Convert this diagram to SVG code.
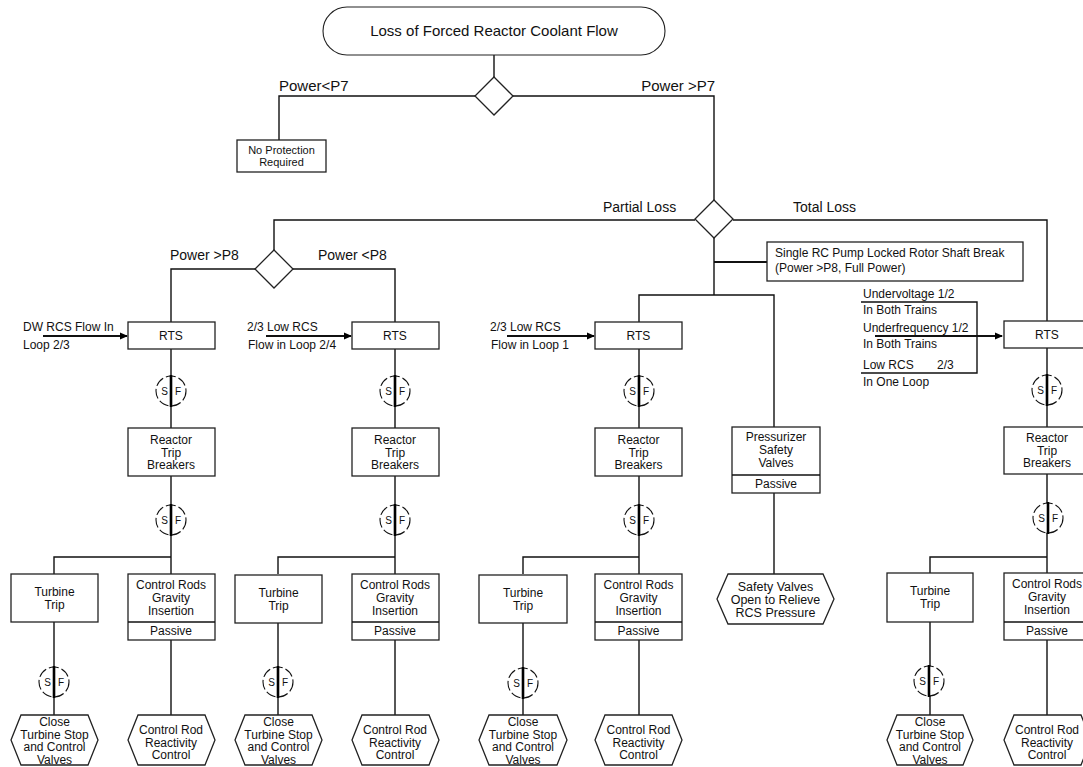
<svg xmlns="http://www.w3.org/2000/svg" width="1083" height="767" viewBox="0 0 1083 767">
<style>
text{font-family:"Liberation Sans",Arial,sans-serif;fill:#111;}
.box{fill:#fff;stroke:#222;stroke-width:1.3;}
.ln{fill:none;stroke:#111;stroke-width:1.4;}
.thk{fill:none;stroke:#111;stroke-width:2.2;}
.t12{font-size:12px;text-anchor:middle;}
.t11{font-size:11px;text-anchor:middle;}
.l12{font-size:12px;}
.l14{font-size:14px;}
.l15{font-size:15px;}
.sfc{fill:#fff;stroke:#111;stroke-width:1.1;stroke-dasharray:10 3;}
.sfl{stroke:#000;stroke-width:2.6;}
.sft{font-size:10px;text-anchor:middle;}
</style>
<defs>
<marker id="ah" markerWidth="8" markerHeight="8" refX="7" refY="4" orient="auto" markerUnits="userSpaceOnUse">
<path d="M0,0.5 L8,4 L0,7.5 Z" fill="#000"/>
</marker>
<g id="sf">
<circle cx="0" cy="0" r="15" class="sfc"/>
<line x1="0" y1="-16" x2="0" y2="16" class="sfl"/>
<text x="-6.5" y="3.5" class="sft">S</text>
<text x="7" y="3.5" class="sft">F</text>
</g>
</defs>

<g id="connectors">
<path class="ln" d="M494,55 V77"/>
<path class="ln" d="M475,96 H279 V140"/>
<path class="ln" d="M513,96 H714 V200"/>
<path class="ln" d="M695,220 H274 V250"/>
<path class="ln" d="M733,220 H1047 V321"/>
<path class="ln" d="M255,269 H171 V322"/>
<path class="ln" d="M293,269 H395 V322"/>
<path class="ln" d="M714,238 V295"/>
<path class="thk" d="M714,262 H767"/>
<path class="ln" d="M639,322 V295 H774 V427"/>
<path class="ln" d="M171,349 V428 M171,476 V574 M171,557 H54 V574 M54,622 V715 M171,640 V715"/>
<path class="ln" d="M395,349 V428 M395,476 V574 M395,557 H278 V574 M278,622 V715 M395,640 V715"/>
<path class="ln" d="M639,349 V428 M639,476 V574 M639,557 H523 V574 M523,622 V715 M639,640 V715"/>
<path class="ln" d="M774,493 V574"/>
<path class="ln" d="M1047,348 V427 M1047,474 V573 M1047,557 H930 V573 M930,622 V715 M1047,640 V715"/>
<path class="thk" d="M43,336 H127" marker-end="url(#ah)"/>
<path class="thk" d="M266,336 H351" marker-end="url(#ah)"/>
<path class="thk" d="M507,336 H594" marker-end="url(#ah)"/>
<path class="thk" d="M875,336 H1002" marker-end="url(#ah)"/>
<path class="ln" d="M861,302 H977 V373 H861"/>
</g>

<g id="labels">
<text x="279" y="91" class="l15">Power&lt;P7</text>
<text x="715" y="91" class="l15" text-anchor="end">Power &gt;P7</text>
<text x="603" y="212" class="l14">Partial Loss</text>
<text x="793" y="212" class="l14">Total Loss</text>
<text x="170" y="260" class="l14">Power &gt;P8</text>
<text x="318" y="260" class="l14">Power &lt;P8</text>
<text x="23" y="331" class="l12">DW RCS Flow In</text>
<text x="23" y="349" class="l12">Loop 2/3</text>
<text x="247" y="331" class="l12">2/3 Low RCS</text>
<text x="248" y="349" class="l12">Flow in Loop 2/4</text>
<text x="490" y="331" class="l12">2/3 Low RCS</text>
<text x="491" y="349" class="l12">Flow in Loop 1</text>
<text x="863" y="298" class="l12">Undervoltage 1/2</text>
<text x="863" y="314" class="l12">In Both Trains</text>
<text x="863" y="332" class="l12">Underfrequency 1/2</text>
<text x="863" y="348" class="l12">In Both Trains</text>
<text x="863" y="369" class="l12">Low RCS</text>
<text x="937" y="369" class="l12">2/3</text>
<text x="863" y="386" class="l12">In One Loop</text>
</g>

<g id="start">
<rect x="323" y="7" width="342" height="48" rx="24" ry="24" class="box" style="stroke-width:1.1"/>
<text x="494" y="36" class="l15" text-anchor="middle">Loss of Forced Reactor Coolant Flow</text>
</g>
<g id="dec-p7"><polygon points="494,77 513,96 494,115 475,96" class="box"/></g>
<g id="dec-loss"><polygon points="714,200 733,219 714,238 695,219" class="box"/></g>
<g id="dec-p8"><polygon points="274,250 293,269 274,288 255,269" class="box"/></g>

<g id="no-protection">
<rect x="237" y="140" width="89" height="32" class="box"/>
<text x="281.5" y="154" class="t11">No Protection</text>
<text x="281.5" y="166" class="t11">Required</text>
</g>

<g id="pump-break">
<rect x="767" y="242" width="256" height="39" class="box"/>
<text x="775" y="257" class="l12">Single RC Pump Locked Rotor Shaft Break</text>
<text x="775" y="272" class="l12">(Power &gt;P8, Full Power)</text>
</g>

<g id="rts-a"><rect x="128" y="322" width="87" height="27" class="box"/><text x="171" y="340" class="t12">RTS</text></g>
<g id="sf-a1"><use href="#sf" x="171" y="391"/></g>
<g id="rtb-a"><rect x="128" y="428" width="87" height="48" class="box"/><text x="171" y="444" class="t12">Reactor</text><text x="171" y="456.5" class="t12">Trip</text><text x="171" y="469" class="t12">Breakers</text></g>
<g id="sf-a2"><use href="#sf" x="171" y="520"/></g>
<g id="tt-a"><rect x="11" y="574" width="87" height="48" class="box"/><text x="54.5" y="596" class="t12">Turbine</text><text x="54.5" y="609" class="t12">Trip</text></g>
<g id="cr-a"><rect x="128" y="574" width="87" height="66" class="box"/><line x1="128" y1="622" x2="215" y2="622" class="ln"/><text x="171" y="589" class="t12">Control Rods</text><text x="171" y="602" class="t12">Gravity</text><text x="171" y="615" class="t12">Insertion</text><text x="171" y="635" class="t12">Passive</text></g>
<g id="sf-a3"><use href="#sf" x="54" y="682"/></g>
<g id="hx-a1"><path d="M21,715 H88 L98,740 L88,765 H21 L11,740 Z" class="box"/><text x="54.5" y="726" class="t12">Close</text><text x="54.5" y="738.5" class="t12">Turbine Stop</text><text x="54.5" y="751" class="t12">and Control</text><text x="54.5" y="763.5" class="t12">Valves</text></g>
<g id="hx-a2"><path d="M138,715 H205 L215,740 L205,765 H138 L128,740 Z" class="box"/><text x="171" y="734" class="t12">Control Rod</text><text x="171" y="746.5" class="t12">Reactivity</text><text x="171" y="759" class="t12">Control</text></g>

<g id="rts-b"><rect x="352" y="322" width="87" height="27" class="box"/><text x="395" y="340" class="t12">RTS</text></g>
<g id="sf-b1"><use href="#sf" x="395" y="391"/></g>
<g id="rtb-b"><rect x="352" y="428" width="87" height="48" class="box"/><text x="395" y="444" class="t12">Reactor</text><text x="395" y="456.5" class="t12">Trip</text><text x="395" y="469" class="t12">Breakers</text></g>
<g id="sf-b2"><use href="#sf" x="395" y="520"/></g>
<g id="tt-b"><rect x="235" y="575" width="87" height="48" class="box"/><text x="278.5" y="597" class="t12">Turbine</text><text x="278.5" y="610" class="t12">Trip</text></g>
<g id="cr-b"><rect x="352" y="574" width="87" height="66" class="box"/><line x1="352" y1="622" x2="439" y2="622" class="ln"/><text x="395" y="589" class="t12">Control Rods</text><text x="395" y="602" class="t12">Gravity</text><text x="395" y="615" class="t12">Insertion</text><text x="395" y="635" class="t12">Passive</text></g>
<g id="sf-b3"><use href="#sf" x="278" y="682"/></g>
<g id="hx-b1"><path d="M245,715 H312 L322,740 L312,765 H245 L235,740 Z" class="box"/><text x="278.5" y="726" class="t12">Close</text><text x="278.5" y="738.5" class="t12">Turbine Stop</text><text x="278.5" y="751" class="t12">and Control</text><text x="278.5" y="763.5" class="t12">Valves</text></g>
<g id="hx-b2"><path d="M362,715 H429 L439,740 L429,765 H362 L352,740 Z" class="box"/><text x="395" y="734" class="t12">Control Rod</text><text x="395" y="746.5" class="t12">Reactivity</text><text x="395" y="759" class="t12">Control</text></g>

<g id="rts-c"><rect x="595" y="322" width="87" height="27" class="box"/><text x="638.5" y="340" class="t12">RTS</text></g>
<g id="sf-c1"><use href="#sf" x="639" y="391"/></g>
<g id="rtb-c"><rect x="595" y="428" width="87" height="48" class="box"/><text x="638.5" y="444" class="t12">Reactor</text><text x="638.5" y="456.5" class="t12">Trip</text><text x="638.5" y="469" class="t12">Breakers</text></g>
<g id="sf-c2"><use href="#sf" x="639" y="520"/></g>
<g id="tt-c"><rect x="479" y="575" width="88" height="48" class="box"/><text x="523" y="597" class="t12">Turbine</text><text x="523" y="610" class="t12">Trip</text></g>
<g id="cr-c"><rect x="595" y="574" width="87" height="66" class="box"/><line x1="595" y1="622" x2="682" y2="622" class="ln"/><text x="638.5" y="589" class="t12">Control Rods</text><text x="638.5" y="602" class="t12">Gravity</text><text x="638.5" y="615" class="t12">Insertion</text><text x="638.5" y="635" class="t12">Passive</text></g>
<g id="sf-c3"><use href="#sf" x="523" y="683"/></g>
<g id="hx-c1"><path d="M489,715 H557 L567,740 L557,765 H489 L479,740 Z" class="box"/><text x="523" y="726" class="t12">Close</text><text x="523" y="738.5" class="t12">Turbine Stop</text><text x="523" y="751" class="t12">and Control</text><text x="523" y="763.5" class="t12">Valves</text></g>
<g id="hx-c2"><path d="M605,715 H672 L682,740 L672,765 H605 L595,740 Z" class="box"/><text x="638.5" y="734" class="t12">Control Rod</text><text x="638.5" y="746.5" class="t12">Reactivity</text><text x="638.5" y="759" class="t12">Control</text></g>

<g id="psv"><rect x="732" y="427" width="88" height="66" class="box"/><line x1="732" y1="475" x2="820" y2="475" class="ln"/><text x="776" y="441" class="t12">Pressurizer</text><text x="776" y="454" class="t12">Safety</text><text x="776" y="467" class="t12">Valves</text><text x="776" y="488" class="t12">Passive</text></g>
<g id="hx-sv"><path d="M728,574 H823 L834,599 L823,624 H728 L717,599 Z" class="box"/><text x="775.5" y="591" class="l12" text-anchor="middle" style="font-size:12.5px">Safety Valves</text><text x="775.5" y="604" class="l12" text-anchor="middle" style="font-size:12.5px">Open to Relieve</text><text x="775.5" y="617" class="l12" text-anchor="middle" style="font-size:12.5px">RCS Pressure</text></g>

<g id="rts-d"><rect x="1004" y="321" width="87" height="27" class="box"/><text x="1047" y="339" class="t12">RTS</text></g>
<g id="sf-d1"><use href="#sf" x="1047" y="390"/></g>
<g id="rtb-d"><rect x="1004" y="427" width="87" height="47" class="box"/><text x="1047" y="442" class="t12">Reactor</text><text x="1047" y="454.5" class="t12">Trip</text><text x="1047" y="467" class="t12">Breakers</text></g>
<g id="sf-d2"><use href="#sf" x="1048" y="518"/></g>
<g id="tt-d"><rect x="887" y="573" width="86" height="49" class="box"/><text x="930" y="595" class="t12">Turbine</text><text x="930" y="608" class="t12">Trip</text></g>
<g id="cr-d"><rect x="1004" y="573" width="87" height="67" class="box"/><line x1="1004" y1="622" x2="1091" y2="622" class="ln"/><text x="1047" y="588" class="t12">Control Rods</text><text x="1047" y="601" class="t12">Gravity</text><text x="1047" y="614" class="t12">Insertion</text><text x="1047" y="635" class="t12">Passive</text></g>
<g id="sf-d3"><use href="#sf" x="929" y="681"/></g>
<g id="hx-d1"><path d="M897,715 H963 L973,740 L963,765 H897 L887,740 Z" class="box"/><text x="930" y="726" class="t12">Close</text><text x="930" y="738.5" class="t12">Turbine Stop</text><text x="930" y="751" class="t12">and Control</text><text x="930" y="763.5" class="t12">Valves</text></g>
<g id="hx-d2"><path d="M1014,715 H1081 L1091,740 L1081,765 H1014 L1004,740 Z" class="box"/><text x="1047" y="734" class="t12">Control Rod</text><text x="1047" y="746.5" class="t12">Reactivity</text><text x="1047" y="759" class="t12">Control</text></g>
</svg>
